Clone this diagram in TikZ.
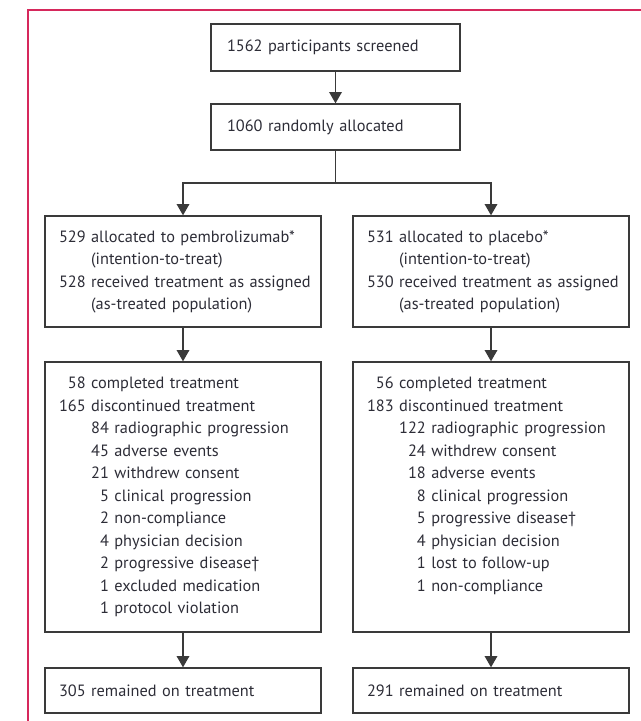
\documentclass[tikz,border=0pt]{standalone}
\usepackage{fontspec}
\setmainfont{PT Sans}
\usepackage{tikz}
\definecolor{lancetred}{RGB}{214,40,92}
\definecolor{boxgray}{RGB}{58,58,58}
\definecolor{txtgray}{RGB}{45,45,55}
\usetikzlibrary{arrows.meta}

\newcommand{\toplist}[1]{\parbox[c][186pt][t]{186pt}{#1}}

\begin{document}
\begin{tikzpicture}[x=0.75pt, y=-0.75pt, >={Triangle[width=9.5pt,length=8.5pt]},   %Pfeilspitzen
	stage/.style={draw=boxgray, line width=1pt, text=txtgray, align=left, inner xsep=10.5pt, inner ysep=0pt, text width=186pt},
	link/.style={draw=boxgray, line width=1pt},
	font=\fontsize{12.25}{16.875}\selectfont]
	\useasboundingbox (0,0) rectangle (641,721);
	\draw[lancetred, line width=1.2pt] (28,721) -- (28,10) -- (641,10);

	\node[stage, text width=162.75pt, inner xsep=12pt, minimum height=35.25pt] (screened) at (335.5,47.5) {1562 participants screened};
	\node[stage, text width=162.75pt, inner xsep=12pt, minimum height=34.5pt] (allocated) at (335.5,127) {1060 randomly allocated};
	\coordinate (split) at (335.5,183);

	\node[stage, minimum height=83.25pt] (pembro) at (183,271.5) {\begin{tabular}{@{}r@{\ }l@{}}
		529 & allocated to pembrolizumab*\\
		    & (intention-to-treat)\\
		528 & received treatment as assigned\\
		    & (as-treated population)
		\end{tabular}};
	\node[stage, minimum height=83.25pt] (placebo) at (491,271.5) {\begin{tabular}{@{}r@{\ }l@{}}
		531 & allocated to placebo*\\
		    & (intention-to-treat)\\
		530 & received treatment as assigned\\
		    & (as-treated population)
		\end{tabular}};

	\node[stage, inner ysep=8.25pt] (pembroStop) at (183,497) {\toplist{\begin{tabular}[t]{@{}r@{\ }r@{\ }l@{}}
		58  & \multicolumn{2}{@{}l@{}}{completed treatment}\\
		165 & \multicolumn{2}{@{}l@{}}{discontinued treatment}\\
		    & 84 & radiographic progression\\
		    & 45 & adverse events\\
		    & 21 & withdrew consent\\
		    & 5  & clinical progression\\
		    & 2  & non-compliance\\
		    & 4  & physician decision\\
		    & 2  & progressive disease†\\
		    & 1  & excluded medication\\
		    & 1  & protocol violation
		\end{tabular}}};
	\node[stage, inner ysep=8.25pt] (placeboStop) at (491,497) {\toplist{\begin{tabular}[t]{@{}r@{\ }r@{\ }l@{}}
		56  & \multicolumn{2}{@{}l@{}}{completed treatment}\\
		183 & \multicolumn{2}{@{}l@{}}{discontinued treatment}\\
		    & 122 & radiographic progression\\
		    & 24  & withdrew consent\\
		    & 18  & adverse events\\
		    & 8   & clinical progression\\
		    & 5   & progressive disease†\\
		    & 4   & physician decision\\
		    & 1   & lost to follow-up\\
		    & 1   & non-compliance
		\end{tabular}}};

	\node[stage, minimum height=33.75pt] (pembroLeft) at (183,690.5) {305 remained on treatment};
	\node[stage, minimum height=33.75pt] (placeboLeft) at (491,690.5) {291 remained on treatment};

	\draw[link, ->] (screened) -- (allocated);
	\draw[link] (allocated) -- (split);
	\draw[link, ->] (split) -| (pembro);
	\draw[link, ->] (split) -| (placebo);
	\draw[link, ->] (pembro) -- (pembroStop);
	\draw[link, ->] (placebo) -- (placeboStop);
	\draw[link, ->] (pembroStop) -- (pembroLeft);
	\draw[link, ->] (placeboStop) -- (placeboLeft);
\end{tikzpicture}
\end{document}
